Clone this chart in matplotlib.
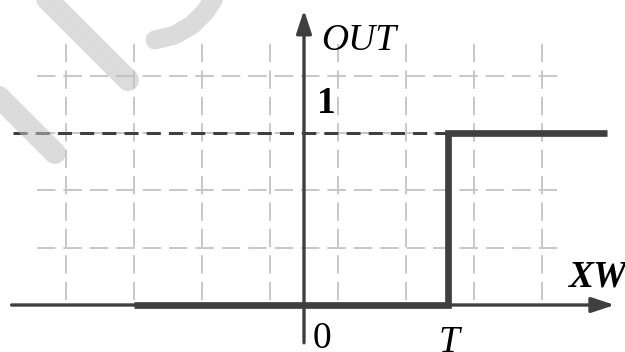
#!/usr/bin/env python3
import matplotlib
matplotlib.use("Agg")
import matplotlib.pyplot as plt
from matplotlib.patches import FancyArrowPatch

# threshold T and the output level
T = 2.12
OUT_HIGH = 1.0

# step response: 0 below T, 1 above
step_x = [-2.5, T, T, 4.45]
step_y = [0, 0, OUT_HIGH, OUT_HIGH]

# background grid
grid_x = [-3.5, -2.5, -1.5, -0.5, 0.5, 1.5, 2.5, 3.5]
grid_y = [1 / 3, 2 / 3, 1.0, 4 / 3]
grid_xspan = (-3.93, 3.8)
grid_yspan = (0.03, 1.52)

# faint watermark strokes (pixel coords, y from top)
wm_strokes = [
    ([40, 128], [-8, 80], 22),
    ([-10, 55], [88, 153], 22),
    ([155, 175, 192, 205, 213, 217], [40, 35, 25, 12, 0, -6], 19),
    ([-10, -4, -10], [172, 202, 232], 22),
]

DARK = "#3f3f3f"
GRID = "#c8c8c8"
SERIF = ["Liberation Serif", "DejaVu Serif"]
px = 0.72  # points per pixel at dpi=100

plt.rcParams["font.family"] = SERIF

fig = plt.figure(figsize=(6.25, 3.52), dpi=100)
ax = fig.add_axes([0, 0, 1, 1])
ax.set_xlim(-304 / 68, (625 - 304) / 68)
ax.set_ylim((305 - 352) / 172, 305 / 172)
ax.axis("off")

# dashed grid
for gx in grid_x:
    ax.plot([gx, gx], grid_yspan, color=GRID, lw=2 * px,
            dashes=(9.2, 4), zorder=1)
for gy in grid_y:
    ax.plot(grid_xspan, [gy, gy], color=GRID, lw=2 * px,
            dashes=(9.2, 4), zorder=1)

# level line at OUT = 1
ax.plot([-4.28, 4.45], [OUT_HIGH, OUT_HIGH], color=DARK, lw=3 * px,
        dashes=(4.7, 2.7), zorder=2)

# axes with arrows
for start, end in [((-4.3, 0), (4.57, 0)), ((0, -0.22), (0, 1.715))]:
    arr = FancyArrowPatch(start, end, arrowstyle="-|>,head_length=14,head_width=4.6",
                          mutation_scale=1, lw=2.4, color=DARK,
                          shrinkA=0, shrinkB=0, zorder=3)
    ax.add_patch(arr)

# the step itself
ax.plot(step_x, step_y, color=DARK, lw=6.7 * px, solid_joinstyle="miter",
        solid_capstyle="butt", zorder=4)

fs = 27
ax.text(0.25, 1.483, "OUT", family=SERIF, fontsize=fs, style="italic", va="baseline")
ax.text(0.19, 1.116, "1", family=SERIF, fontsize=fs, weight="bold", va="baseline")
ax.text(0.13, -0.25, "0", family=SERIF, fontsize=fs, va="baseline")
ax.text(1.98, -0.273, "T", family=SERIF, fontsize=fs, style="italic", va="baseline")
ax.text(3.9, 0.105, "XW", family=SERIF, fontsize=fs, style="italic", weight="bold",
        va="baseline")

# watermark overlay
wm = fig.add_axes([0, 0, 1, 1], zorder=5)
wm.set_xlim(0, 625)
wm.set_ylim(352, 0)
wm.axis("off")
wm.patch.set_alpha(0)
for xs, ys, w in wm_strokes:
    wm.plot(xs, ys, color="#bfbfbf", alpha=0.55, lw=w * px,
            solid_capstyle="round", solid_joinstyle="round")

fig.savefig("out.png", dpi=100)
